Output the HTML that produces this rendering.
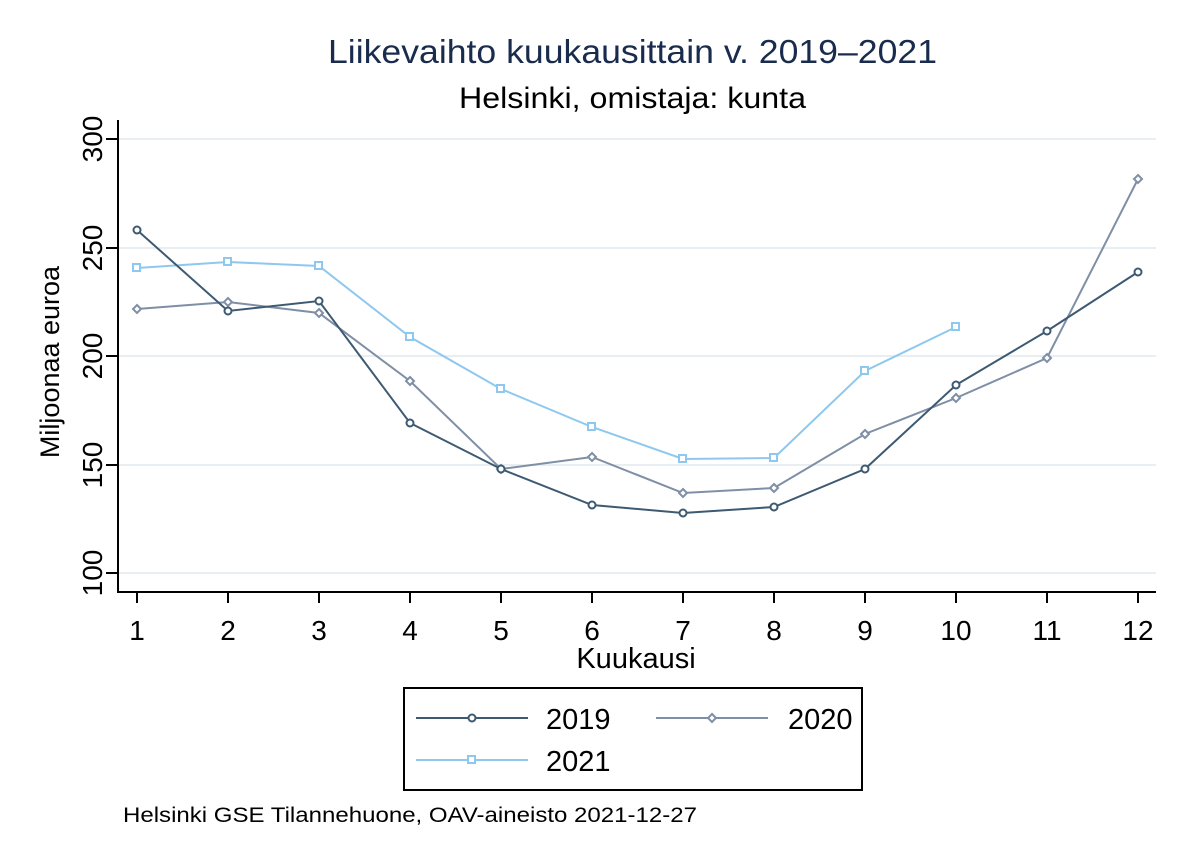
<!DOCTYPE html>
<html><head><meta charset="utf-8"><style>body{margin:0;background:#fff}svg{display:block}</style></head>
<body>
<svg width="1186" height="862" viewBox="0 0 1186 862" xmlns="http://www.w3.org/2000/svg" font-family="Liberation Sans, sans-serif">
<rect width="1186" height="862" fill="#fff"/>
<text x="328" y="63" font-size="33" fill="#1a2c4e" textLength="609" lengthAdjust="spacingAndGlyphs">Liikevaihto kuukausittain v. 2019–2021</text>
<text x="459" y="108" font-size="30" fill="#000" textLength="347" lengthAdjust="spacingAndGlyphs">Helsinki, omistaja: kunta</text>
<g stroke="#e8eef2" stroke-width="2">
<line x1="119" y1="139" x2="1156" y2="139"/><line x1="119" y1="248" x2="1156" y2="248"/><line x1="119" y1="356" x2="1156" y2="356"/><line x1="119" y1="465" x2="1156" y2="465"/><line x1="119" y1="573" x2="1156" y2="573"/>
</g>
<g stroke="#000" stroke-width="2">
<line x1="118" y1="120" x2="118" y2="593"/><line x1="117" y1="592" x2="1156" y2="592"/>
<line x1="106" y1="139" x2="118" y2="139"/><line x1="106" y1="248" x2="118" y2="248"/><line x1="106" y1="356" x2="118" y2="356"/><line x1="106" y1="465" x2="118" y2="465"/><line x1="106" y1="573" x2="118" y2="573"/>
<line x1="137" y1="592" x2="137" y2="603"/><line x1="228" y1="592" x2="228" y2="603"/><line x1="319" y1="592" x2="319" y2="603"/><line x1="410" y1="592" x2="410" y2="603"/><line x1="501" y1="592" x2="501" y2="603"/><line x1="592" y1="592" x2="592" y2="603"/><line x1="683" y1="592" x2="683" y2="603"/><line x1="774" y1="592" x2="774" y2="603"/><line x1="865" y1="592" x2="865" y2="603"/><line x1="956" y1="592" x2="956" y2="603"/><line x1="1047" y1="592" x2="1047" y2="603"/><line x1="1138" y1="592" x2="1138" y2="603"/>
</g>
<g font-size="28" text-anchor="middle">
<text transform="translate(102,139) rotate(-90)">300</text><text transform="translate(102,248) rotate(-90)">250</text><text transform="translate(102,356) rotate(-90)">200</text><text transform="translate(102,465) rotate(-90)">150</text><text transform="translate(102,573) rotate(-90)">100</text>
<text x="137" y="640">1</text><text x="228" y="640">2</text><text x="319" y="640">3</text><text x="410" y="640">4</text><text x="501" y="640">5</text><text x="592" y="640">6</text><text x="683" y="640">7</text><text x="774" y="640">8</text><text x="865" y="640">9</text><text x="956" y="640">10</text><text x="1047" y="640">11</text><text x="1138" y="640">12</text>
<text x="636" y="668" font-size="29">Kuukausi</text>
<text transform="translate(59,362) rotate(-90)" font-size="27">Miljoonaa euroa</text>
</g>
<polyline fill="none" stroke="#8ec8ee" stroke-width="2" points="137,268 228,262 319,266 410,337 501,389 592,427 683,459 774,458 865,371 956,327"/>
<g fill="#fff" stroke="#8ec8ee" stroke-width="2"><rect x="133" y="264" width="7" height="7"/><rect x="224" y="258" width="7" height="7"/><rect x="315" y="262" width="7" height="7"/><rect x="406" y="333" width="7" height="7"/><rect x="497" y="385" width="7" height="7"/><rect x="588" y="423" width="7" height="7"/><rect x="679" y="455" width="7" height="7"/><rect x="770" y="454" width="7" height="7"/><rect x="861" y="367" width="7" height="7"/><rect x="952" y="323" width="7" height="7"/></g>
<polyline fill="none" stroke="#7f8fa6" stroke-width="2" points="137,309 228,302 319,313 410,381 501,469 592,457 683,493 774,488 865,434 956,398 1047,358 1138,179"/>
<g fill="#fff" stroke="#7f8fa6" stroke-width="2">
<path d="M137 305l4 4-4 4-4-4z"/><path d="M228 298l4 4-4 4-4-4z"/><path d="M319 309l4 4-4 4-4-4z"/><path d="M410 377l4 4-4 4-4-4z"/><path d="M501 465l4 4-4 4-4-4z"/><path d="M592 453l4 4-4 4-4-4z"/><path d="M683 489l4 4-4 4-4-4z"/><path d="M774 484l4 4-4 4-4-4z"/><path d="M865 430l4 4-4 4-4-4z"/><path d="M956 394l4 4-4 4-4-4z"/><path d="M1047 354l4 4-4 4-4-4z"/><path d="M1138 175l4 4-4 4-4-4z"/></g>
<polyline fill="none" stroke="#3d5a72" stroke-width="2" points="137,230 228,311 319,301 410,423 501,469 592,505 683,513 774,507 865,469 956,385 1047,331 1138,272"/>
<g fill="#fff" stroke="#3d5a72" stroke-width="2">
<circle cx="137" cy="230" r="3.5"/><circle cx="228" cy="311" r="3.5"/><circle cx="319" cy="301" r="3.5"/><circle cx="410" cy="423" r="3.5"/><circle cx="501" cy="469" r="3.5"/><circle cx="592" cy="505" r="3.5"/><circle cx="683" cy="513" r="3.5"/><circle cx="774" cy="507" r="3.5"/><circle cx="865" cy="469" r="3.5"/><circle cx="956" cy="385" r="3.5"/><circle cx="1047" cy="331" r="3.5"/><circle cx="1138" cy="272" r="3.5"/></g>
<rect x="404" y="688" width="458" height="102" fill="#fff" stroke="#000" stroke-width="2"/>
<line x1="416" y1="718" x2="528" y2="718" stroke="#3d5a72" stroke-width="2"/><circle cx="472" cy="718" r="3.5" fill="#fff" stroke="#3d5a72" stroke-width="2"/>
<line x1="656" y1="718" x2="768" y2="718" stroke="#7f8fa6" stroke-width="2"/><path d="M712 714l4 4-4 4-4-4z" fill="#fff" stroke="#7f8fa6" stroke-width="2"/>
<line x1="416" y1="760" x2="528" y2="760" stroke="#8ec8ee" stroke-width="2"/><rect x="468" y="756" width="7" height="7" fill="#fff" stroke="#8ec8ee" stroke-width="2"/>
<g font-size="29"><text x="546" y="729">2019</text><text x="788" y="729">2020</text><text x="546" y="771">2021</text></g>
<text x="123" y="822" font-size="21" textLength="574" lengthAdjust="spacingAndGlyphs">Helsinki GSE Tilannehuone, OAV-aineisto 2021-12-27</text>
</svg>
</body></html>
